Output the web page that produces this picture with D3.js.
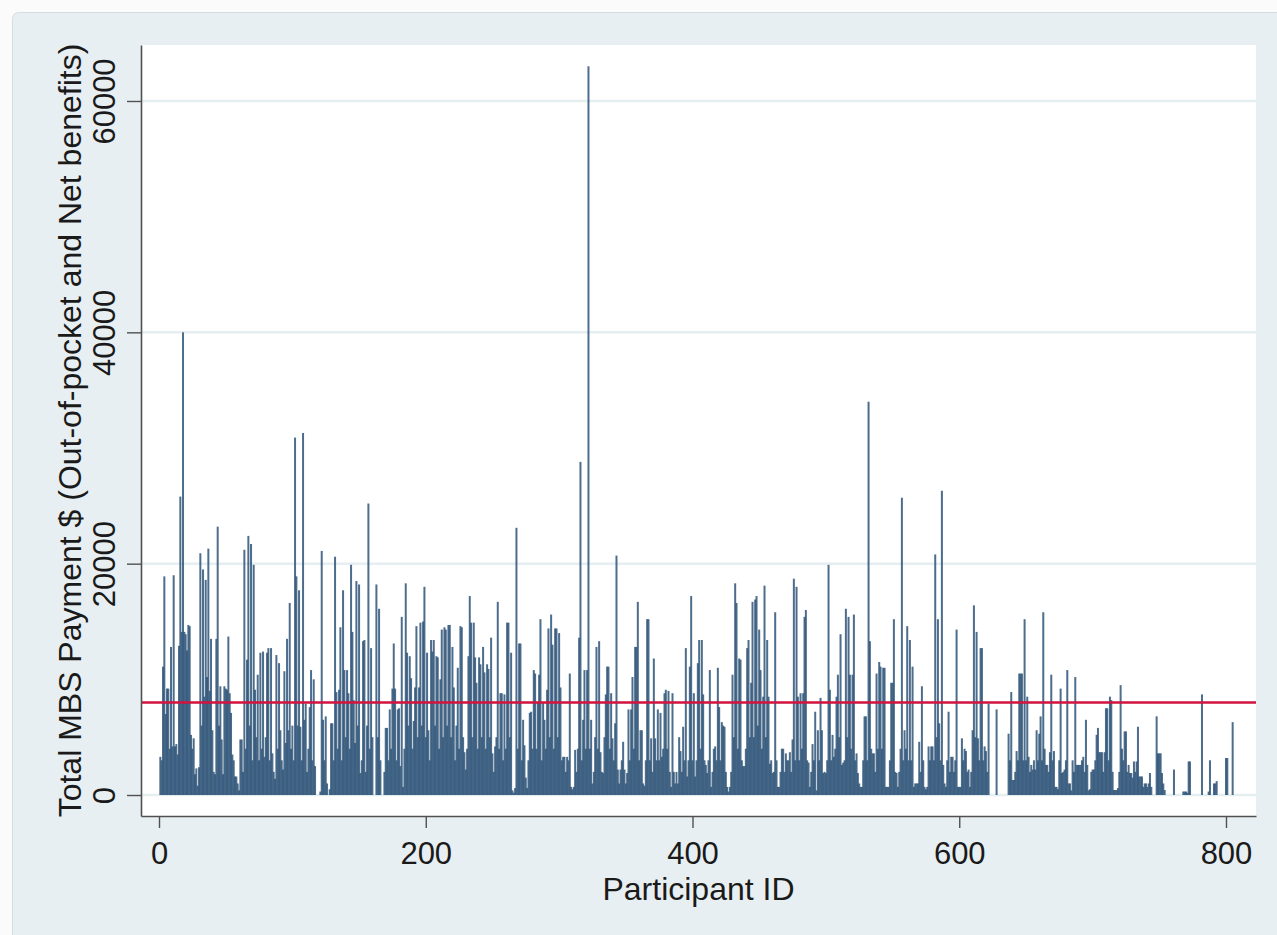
<!DOCTYPE html>
<html><head><meta charset="utf-8">
<script src="https://cdn.jsdelivr.net/npm/d3@7"></script>
<style>
html,body{margin:0;padding:0;background:#fbfbfb;}
svg{display:block;font-family:"Liberation Sans",Arial,Helvetica,sans-serif;}
</style>
</head><body>
<script>
// Total MBS payment per participant (participant ID = position + 1)
const payments = [
3300,3000,11100,18900,7000,9200,9200,4000,12800,4200,
19000,4200,4400,3500,12900,25800,14100,40000,14100,13900,
12500,14700,14600,5200,4000,4900,1800,2300,800,2400,
20900,6000,19500,8500,18600,10200,21300,9000,13500,5600,
2000,1800,13500,23200,6000,9400,4800,1800,9400,9200,
9100,13700,8800,7100,3500,3000,1600,1600,1000,400,
4800,4800,2000,21200,4000,11700,22400,6000,21700,3000,
19900,9100,5000,10400,3000,12300,4000,12400,3300,5000,
12300,12700,3000,12700,3600,2000,1400,12100,4000,11400,
5600,3000,2200,10700,4500,13500,5600,16600,4000,6000,
3000,30900,18900,6000,17700,5900,3000,31300,6500,7900,
2000,4000,7600,10800,3000,10000,2500,0,0,0,
300,21100,6500,3000,6800,1000,0,500,6200,6200,
3000,20600,8900,4000,9100,14500,3000,17700,10800,5000,
10800,8800,4000,19900,14100,8200,4500,18500,6000,18200,
1900,3000,13300,13400,2000,6000,25200,4000,12700,5000,
0,0,18200,5000,16100,3000,0,0,2000,5800,
5800,3000,7400,4000,9200,13100,9200,3000,7400,7500,
2500,15400,700,4000,18300,12300,6000,12000,10100,4000,
6400,9300,14600,5000,9300,14900,6000,15000,18000,5000,
12300,5600,3000,13400,12400,13400,6000,12000,11900,4000,
10000,14300,5000,14500,14300,6000,14700,14700,5000,12800,
9300,3000,6000,11000,4000,14600,14500,5000,3700,2200,
4000,12000,17200,14900,5000,14900,11900,9700,4000,11900,
11300,5000,12800,10600,4000,11300,10900,5000,13600,3600,
2000,4200,5000,16700,4000,8800,8800,3000,8700,4000,
14900,14900,5000,12300,400,200,600,23100,4000,13100,
13100,3000,6500,4300,1500,600,3000,7100,7200,4000,
10800,10500,4000,8000,10400,15200,3000,8000,6500,4000,
9100,14400,5000,15600,13000,4000,14400,14400,5000,14000,
9300,3000,3300,3300,2000,3300,3000,10500,700,500,
700,3900,2000,4000,13600,28800,3000,6500,10800,4000,
10800,63000,4000,6500,1000,2000,5000,12800,4000,13300,
3700,2000,1900,5000,8700,11100,11100,4000,8800,4900,
3000,6200,20700,2200,1000,2200,3000,4600,2200,1000,
1900,7400,3000,7400,10200,4000,12800,12800,16700,3000,
5600,5600,1000,800,3000,15200,15200,3000,4900,2000,
11800,4900,3000,7400,3000,7100,3300,4000,8800,9100,
4000,9000,2000,700,8800,2000,1000,2000,1000,5000,
3800,2000,5900,3000,12700,1600,3000,11100,17200,3000,
8800,1600,3000,11400,13400,4000,13400,8700,3000,2600,
1900,3000,10800,700,2000,4000,4200,3000,11000,7600,
3000,6300,6000,5900,2000,700,300,700,2000,10400,
5000,18300,16600,4000,11800,11700,3000,2500,2500,4000,
12700,13400,5000,9700,16700,5000,16900,17200,6000,14300,
10800,4000,8500,18100,5000,13400,8500,2700,3000,1900,
2000,15800,3000,700,700,2000,4000,4000,2000,3600,
3000,3000,3700,2000,4800,18700,3000,18000,8500,3000,
8800,4000,8800,15400,16000,3000,2800,700,2000,4400,
3000,7200,400,5600,3000,8400,5600,1900,2000,1900,
3000,19900,9100,3000,5200,3300,4000,8500,10400,5000,
13900,2600,2800,3000,16100,5000,15400,10400,4000,10400,
15600,3000,3600,1900,1000,700,700,3000,6800,6800,
3000,34000,13300,4000,3600,3600,2000,10500,4000,11500,
11100,4000,11000,11000,700,700,700,3000,9700,9700,
15200,2000,1900,700,2000,4000,25700,3000,5600,4000,
14600,3000,13400,3000,11100,700,1000,1000,1000,4600,
2000,9400,3000,700,500,700,4200,3000,4200,4200,
3000,20800,5000,15200,6200,3000,26300,2600,1000,700,
3000,7200,2000,3300,3300,2000,3000,14300,700,700,
700,4900,3000,4000,3800,2000,2200,700,2000,5600,
16400,5000,14100,4900,3000,12700,12700,3000,4200,3800,
2000,7900,0,0,0,0,0,7400,0,0,
0,0,0,0,0,0,5300,3000,8900,1300,
1300,2000,3800,3000,10500,10500,10500,3000,15200,3000,
8500,3300,2000,2600,2200,3000,2200,5600,3000,5300,
6800,3000,15800,4000,2600,2600,2000,3700,10400,3000,
3800,700,700,500,3000,9200,1900,2000,2200,3000,
10800,1000,1000,400,3000,2000,10200,2600,2600,2600,
2600,3000,3300,2000,6500,2600,400,500,2000,2200,
2200,3000,5200,5800,3700,3700,3700,2000,3700,7500,
7500,3000,8500,8200,2000,430,430,430,600,2000,
9500,4000,3000,5500,5500,2000,2600,1900,1900,1500,
2900,2000,2900,5900,1600,1600,1600,700,1000,1000,
700,1000,1900,700,0,0,0,6800,3600,3600,
3600,1900,1000,430,0,0,0,0,0,0,
2200,0,0,0,0,0,0,300,300,300,
200,2900,2900,0,0,0,0,0,0,0,
0,8700,0,0,0,0,300,3000,0,0,
1000,1000,1200,0,0,0,0,0,0,3200,
3200,0,0,0,6300
];
const meanPayment = 8000;            // horizontal reference line
const xTickValues = [0, 200, 400, 600, 800];
const yTickValues = [0, 20000, 40000, 60000];
const xTitle = "Participant ID";
const yTitle = "Total MBS Payment $ (Out-of-pocket and Net benefits)";

const W = 1277, H = 935;
const plot = {left: 141, right: 1256, top: 45, bottom: 816};

const x = d3.scaleLinear().domain([-13.5, 822.5]).range([plot.left, plot.right]);
const y = d3.scaleLinear().domain([-1815, 64840]).range([plot.bottom, plot.top]);

const svg = d3.select("body").append("svg").attr("width", W).attr("height", H);
const defs = svg.append("defs");
defs.append("filter").attr("id", "soft")
  .attr("filterUnits", "userSpaceOnUse")
  .attr("x", 0).attr("y", 0).attr("width", W).attr("height", H)
  .append("feGaussianBlur").attr("stdDeviation", 0.7);
defs.append("filter").attr("id", "softline")
  .attr("filterUnits", "userSpaceOnUse")
  .attr("x", 0).attr("y", 0).attr("width", W).attr("height", H)
  .append("feGaussianBlur").attr("stdDeviation", 0.5);

// outer panel
svg.append("rect").attr("x", 0).attr("y", 0).attr("width", W).attr("height", H).attr("fill", "#fbfbfb");
svg.append("rect").attr("x", 12.5).attr("y", 12.5).attr("width", W).attr("height", H)
  .attr("rx", 6).attr("fill", "#e8eff2").attr("stroke", "#d3dce0");

// plot region
svg.append("rect").attr("x", plot.left).attr("y", plot.top)
  .attr("width", plot.right - plot.left).attr("height", plot.bottom - plot.top)
  .attr("fill", "#ffffff");

// gridlines
svg.append("g").selectAll("line").data(yTickValues).join("line")
  .attr("x1", plot.left).attr("x2", plot.right)
  .attr("y1", d => y(d)).attr("y2", d => y(d))
  .attr("stroke", "#e5eef0").attr("stroke-width", 2.5);

// bars
const step = x(1) - x(0);
const bw = step * 1.5;
const data = payments.map((v, i) => ({id: i + 1, v}));
svg.append("g").attr("filter", "url(#soft)")
  .selectAll("rect").data(data.filter(d => d.v > 0)).join("rect")
  .attr("x", d => x(d.id) - bw / 2)
  .attr("width", bw)
  .attr("y", d => y(d.v))
  .attr("height", d => y(0) - y(d.v))
  .attr("fill", "#2e5378")
  .attr("fill-opacity", 0.85);

// reference line
svg.append("line").attr("filter", "url(#softline)")
  .attr("x1", plot.left).attr("x2", plot.right)
  .attr("y1", y(meanPayment)).attr("y2", y(meanPayment))
  .attr("stroke", "#d0153c").attr("stroke-width", 2.4);

// axes
const axisColor = "#505050";
const yAxis = svg.append("g").attr("transform", `translate(${plot.left},0)`)
  .call(d3.axisLeft(y).tickValues(yTickValues).tickSize(14).tickSizeOuter(0).tickFormat(d3.format("d")));
const xAxis = svg.append("g").attr("transform", `translate(0,${plot.bottom})`)
  .call(d3.axisBottom(x).tickValues(xTickValues).tickSize(12).tickSizeOuter(0).tickFormat(d3.format("d")));
[yAxis, xAxis].forEach(g => {
  g.select(".domain").attr("stroke", axisColor).attr("stroke-width", 1.6);
  g.selectAll(".tick line").attr("stroke", axisColor).attr("stroke-width", 1.4);
  g.selectAll("text").attr("fill", "#1a1a1a").attr("font-size", 31)
    .attr("font-family", '"Liberation Sans", Arial, Helvetica, sans-serif');
});
yAxis.selectAll(".tick text")
  .attr("transform", "rotate(-90)")
  .attr("x", 0).attr("y", -26).attr("dy", 0)
  .attr("text-anchor", "middle");
xAxis.selectAll(".tick text").attr("y", 48).attr("dy", 0);

// titles
svg.append("text").attr("x", (plot.left + plot.right) / 2).attr("y", 900)
  .attr("text-anchor", "middle").attr("font-size", 32).attr("fill", "#1a1a1a")
  .text(xTitle);
svg.append("text")
  .attr("transform", `translate(81,${(plot.top + plot.bottom) / 2}) rotate(-90)`)
  .attr("text-anchor", "middle").attr("font-size", 32).attr("fill", "#1a1a1a")
  .text(yTitle);
</script>
</body></html>
